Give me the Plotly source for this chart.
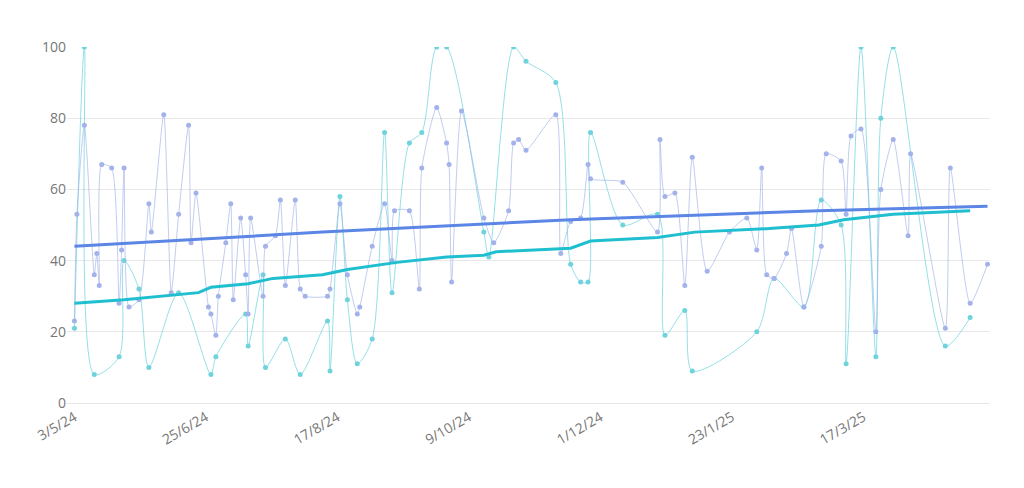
import datetime as dt
import plotly.graph_objects as go

start = dt.date(2024, 5, 3)

blue_days = [0,1,4,8,9,10,11,15,18,19,20,22,26,30,31,36,39,42,46,47,49,54,55,57,58,61,63,64,67,69,70,71,76,77,81,83,85,89,91,93,102,103,107,110,114,115,120,125,128,129,135,139,140,146,150,151,152,156,165,169,175,177,179,182,194,196,200,204,207,208,221,235,236,238,242,246,249,255,264,271,275,277,279,282,287,289,294,301,303,309,311,313,317,323,325,330,336,337,351,353,361,368]
blue_vals = [23,53,78,36,42,33,67,66,28,43,66,27,29,56,48,81,31,53,78,45,59,27,25,19,30,45,56,29,52,36,25,52,30,44,47,57,33,57,32,30,30,32,56,36,25,27,44,56,40,54,54,32,66,83,73,67,34,82,52,45,54,73,74,71,81,42,51,52,67,63,62,48,74,58,59,33,69,37,48,52,43,66,36,35,42,49,27,44,70,68,53,75,77,20,60,74,47,70,21,66,28,39]

cyan_days = [0,4,8,18,20,26,30,42,55,57,69,70,76,77,85,91,102,103,107,110,114,120,125,128,135,140,146,150,165,167,177,182,194,200,204,207,208,221,235,238,246,249,275,282,294,301,309,311,317,323,325,330,351,361]
cyan_vals = [21,100,8,13,40,32,10,31,8,13,25,16,36,10,18,8,23,9,58,29,11,18,76,31,73,76,100,100,48,41,100,96,90,39,34,34,76,50,53,19,26,9,20,35,27,57,50,11,100,13,80,100,16,24]

blue_trend_days = [0,100,200,300,368]
blue_trend_vals = [44,48,51.5,54,55.3]
cyan_trend_days = [0,20,50,55,70,80,100,110,130,150,165,170,200,208,235,250,280,300,310,323,330,361]
cyan_trend_vals = [28,29,31,32.5,33.5,35,36,37.5,39.5,41,41.5,42.5,43.5,45.5,46.5,48,49,50,51.5,52.5,53,54]

tick_days = [0,53,106,159,212,265,318]

def d(days):
    return [start + dt.timedelta(days=x) for x in days]

fig = go.Figure()
fig.add_trace(go.Scatter(x=d(cyan_days), y=cyan_vals, mode="lines+markers",
    line=dict(color="rgba(110,214,224,0.75)", width=1, shape="spline", smoothing=0.8),
    marker=dict(color="#6fd3dc", size=5)))
fig.add_trace(go.Scatter(x=d(blue_days), y=blue_vals, mode="lines+markers",
    line=dict(color="rgba(160,176,232,0.65)", width=1, shape="spline", smoothing=0.6),
    marker=dict(color="#a3b2ea", size=5)))
fig.add_trace(go.Scatter(x=d(cyan_trend_days), y=cyan_trend_vals, mode="lines",
    line=dict(color="#1fbfd0", width=3)))
fig.add_trace(go.Scatter(x=d(blue_trend_days), y=blue_trend_vals, mode="lines",
    line=dict(color="#5b86e5", width=3)))

fig.update_layout(
    width=1024, height=488, showlegend=False,
    paper_bgcolor="white", plot_bgcolor="white",
    margin=dict(l=59, r=42, t=39, b=93),
    font=dict(family="Open Sans", color="#777", size=14),
)
fig.update_xaxes(range=[start - dt.timedelta(days=3), start + dt.timedelta(days=369)],
    tickvals=d(tick_days),
    ticktext=[f"{x.day}/{x.month}/{x.year % 100}" for x in d(tick_days)],
    tickangle=-30, showgrid=False, showline=True, linecolor="#e6e6e6",
    ticks="", zeroline=False)
fig.update_yaxes(range=[0, 100], dtick=20, gridcolor="#e8e8e8", zeroline=False,
    ticks="", showline=False)
fig.write_html("out.html")
